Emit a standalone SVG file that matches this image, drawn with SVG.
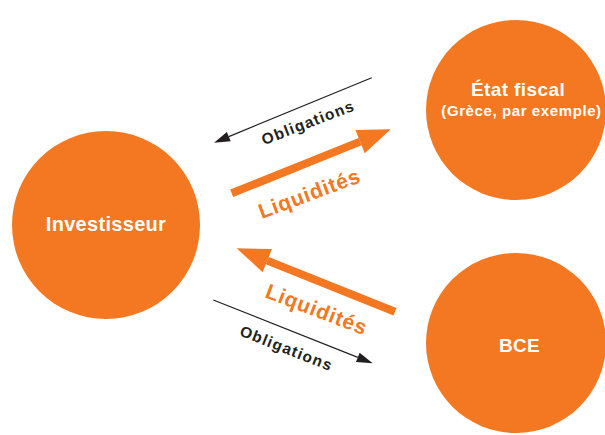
<svg xmlns="http://www.w3.org/2000/svg" width="605" height="435" viewBox="0 0 605 435">
  <style>
    .node circle { fill: #F47721; }
    .node text { fill: #FFFFFF; font-family: "Liberation Sans", Arial, sans-serif; font-weight: bold; text-anchor: middle; }
    .thin { stroke: #231F20; stroke-width: 1.2; fill: none; }
    .thick { stroke: #F47721; stroke-width: 8; fill: none; }
    .lblk { fill: #231F20; font-family: "Liberation Sans", Arial, sans-serif; font-weight: bold; font-size: 15.5px; letter-spacing: 1.2px; text-anchor: middle; }
    .lorg { fill: #F47721; font-family: "Liberation Sans", Arial, sans-serif; font-weight: bold; font-size: 21px; letter-spacing: 0.8px; text-anchor: middle; }
  </style>
  <defs>
    <marker id="headThin" markerUnits="userSpaceOnUse" markerWidth="20" markerHeight="14" viewBox="0 -7 20 14" refX="0" refY="0" orient="auto" overflow="visible">
      <path d="M0,-5 L16,0 L0,5 Z" fill="#231F20"/>
    </marker>
    <marker id="headThick" markerUnits="userSpaceOnUse" markerWidth="36" markerHeight="28" viewBox="0 -14 36 28" refX="0" refY="0" orient="auto" overflow="visible">
      <path d="M0,-12.5 L33,0 L0,12.5 Z" fill="#F47721"/>
    </marker>
  </defs>

  <g id="investisseur" class="node">
    <circle cx="106" cy="225" r="94"/>
    <text x="106" y="231" font-size="20" letter-spacing="0.3">Investisseur</text>
  </g>

  <g id="etat-fiscal" class="node">
    <circle cx="516" cy="110" r="90"/>
    <text x="518" y="96" font-size="19" letter-spacing="0.4">État fiscal</text>
    <text x="521.5" y="116" font-size="15" letter-spacing="0.6">(Grèce, par exemple)</text>
  </g>

  <g id="bce" class="node">
    <circle cx="516" cy="343" r="90"/>
    <text x="519.5" y="352" font-size="19" letter-spacing="0.3">BCE</text>
  </g>

  <g id="connectors">
    <line class="thin" x1="371.7" y1="77.7" x2="228.8" y2="136.6" marker-end="url(#headThin)"/>
    <line class="thick" x1="231.7" y1="193.3" x2="360.1" y2="141.6" marker-end="url(#headThick)"/>
    <line class="thick" x1="395" y1="311.7" x2="267.3" y2="260.6" marker-end="url(#headThick)"/>
    <line class="thin" x1="213.3" y1="300" x2="357.8" y2="357.4" marker-end="url(#headThin)"/>

    <text class="lblk" transform="translate(310,127.5) rotate(-21)">Obligations</text>
    <text class="lorg" transform="translate(312,200.3) rotate(-20.5)">Liquidités</text>
    <text class="lorg" transform="translate(314,316.2) rotate(21)">Liquidités</text>
    <text class="lblk" transform="translate(284.5,353.3) rotate(21.5)">Obligations</text>
  </g>
</svg>
